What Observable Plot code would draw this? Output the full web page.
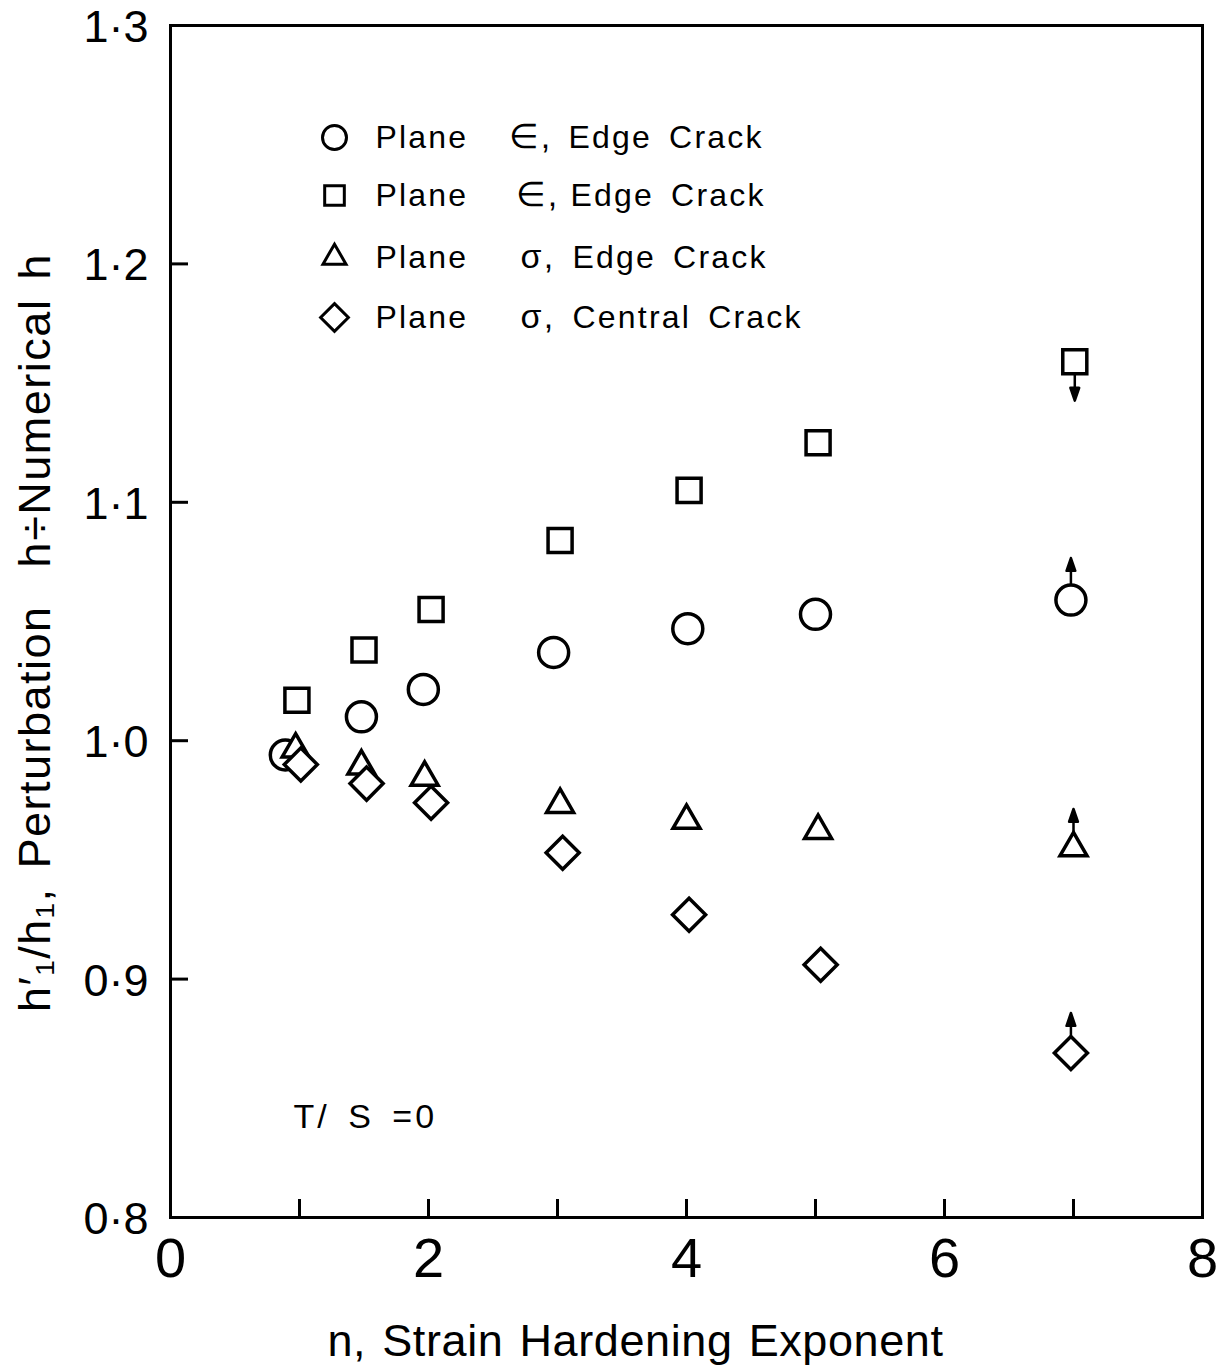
<!DOCTYPE html>
<html><head><meta charset="utf-8">
<script src="https://cdn.jsdelivr.net/npm/d3@7"></script>
<script src="https://cdn.jsdelivr.net/npm/@observablehq/plot@0.6"></script>
<style>
body{margin:0;background:#fff}
#chart svg{display:block;background:#fff}
</style></head><body><div id="chart"></div>
<script>
// Plane strain, edge crack (circles)
const nCircle = [0.89, 1.48, 1.96, 2.97, 4.01, 5.00, 6.98];
const vCircle = [0.994, 1.010, 1.0215, 1.037, 1.047, 1.053, 1.059];
// Plane strain, edge crack (squares)
const nSquare = [0.98, 1.50, 2.02, 3.02, 4.02, 5.02, 7.01];
const vSquare = [1.017, 1.038, 1.055, 1.084, 1.105, 1.125, 1.159];
// Plane stress, edge crack (triangles)
const nTriangle = [0.97, 1.48, 1.97, 3.02, 4.00, 5.02, 7.00];
const vTriangle = [0.9964, 0.9893, 0.9846, 0.9732, 0.9665, 0.9623, 0.955];
// Plane stress, central crack (diamonds)
const nDiamond = [1.01, 1.52, 2.02, 3.04, 4.02, 5.04, 6.98];
const vDiamond = [0.990, 0.982, 0.974, 0.953, 0.927, 0.906, 0.869];

// arrows on the last point of each series
const arrowSeries = ["circle", "square", "triangle", "diamond"];
const arrowDirection = ["up", "down", "up", "up"];

// legend
const legendSymbols = ["circle", "square2", "triangle2", "diamond2"];
const legendPlane = ["Plane", "Plane", "Plane", "Plane"];
const legendStress = ["\u2208,", "\u2208,", "\u03C3,", "\u03C3,"];
const legendCrack = ["Edge Crack", "Edge Crack", "Edge Crack", "Central Crack"];

// axes
const xLabelTicks = [0, 2, 4, 6, 8];
const xMarkTicks = [1, 2, 3, 4, 5, 6, 7];
const yLabelTicks = [0.8, 0.9, 1.0, 1.1, 1.2, 1.3];
const yTickLabels = ["0\u00B78", "0\u00B79", "1\u00B70", "1\u00B71", "1\u00B72", "1\u00B73"];
const yMarkTicks = [0.9, 1.0, 1.1, 1.2];
const xTitle = "n, Strain Hardening Exponent";
const yTitle = "h\u2032\u2081/h\u2081, Perturbation  h\u00F7Numerical h";
const note = "T/ S =0";

const mk = (ns, vs, s) => ns.map((n, i) => ({n, v: vs[i], s}));
const circles = mk(nCircle, vCircle, "circle");
const squares = mk(nSquare, vSquare, "square");
const triangles = mk(nTriangle, vTriangle, "triangle");
const diamonds = mk(nDiamond, vDiamond, "diamond");
const bySeries = {circle: circles, square: squares, triangle: triangles, diamond: diamonds};
const arrows = arrowSeries.map((s, i) => {
  const last = bySeries[s][bySeries[s].length - 1];
  return {n: last.n, v: last.v, dir: arrowDirection[i], s};
});
const arrowLen = {circle: 42, square: 39, triangle: 39, diamond: 40};

const filledArrow = {
  draw(context, l, r) {
    context.moveTo(0, 0);
    context.lineTo(0, -l + r * 1.4);
    context.moveTo(0, -l);
    context.lineTo(-r * 0.55, -l + r * 1.6);
    context.lineTo(r * 0.55, -l + r * 1.6);
    context.closePath();
  }
};

const W = 1224, H = 1370, mL = 170, mR = 22, mT = 25, mB = 153;
const frameH = H - mT - mB, frameW = W - mL - mR, tickLen = 18;

const legendMarks = [];
legendSymbols.forEach((sym, i) => {
  const dy = [112, 170, 232, 292][i];
  const rr = [12, 12.5, 11, 12.5][i];
  legendMarks.push(Plot.dot([sym], {frameAnchor: "top-left", dx: 164, dy, symbol: sym, r: rr, stroke: "black", strokeWidth: 3, fill: "white"}));
  legendMarks.push(Plot.text([legendPlane[i]], {frameAnchor: "top-left", dx: 205, dy, text: d => d, textAnchor: "start", lineAnchor: "middle", fontSize: 32}));
  legendMarks.push(Plot.text([legendStress[i]], {frameAnchor: "top-left", dx: [338, 345, 350, 350][i], dy, text: d => d, textAnchor: "start", lineAnchor: "middle", fontSize: 34}));
  legendMarks.push(Plot.text([legendCrack[i]], {frameAnchor: "top-left", dx: [398, 400, 402, 402][i], dy, text: d => d, textAnchor: "start", lineAnchor: "middle", fontSize: 32}));
});

const chart = Plot.plot({
  width: W,
  height: H,
  marginLeft: mL,
  marginRight: mR,
  marginTop: mT,
  marginBottom: mB,
  style: {fontFamily: "Liberation Sans, Arial, sans-serif", color: "black", background: "white"},
  x: {domain: [0, 8]},
  y: {domain: [0.8, 1.3]},
  length: {type: "identity"},
  marks: [
    Plot.tickX(xMarkTicks, {x: d => d, insetTop: frameH - tickLen, stroke: "black", strokeWidth: 3}),
    Plot.tickY(yMarkTicks, {y: d => d, insetRight: frameW - tickLen, stroke: "black", strokeWidth: 3}),
    Plot.frame({stroke: "black", strokeWidth: 3}),
    Plot.axisX(xLabelTicks, {tickSize: 0, tickPadding: 20, fontSize: 56, label: null, tickFormat: d => String(d)}),
    Plot.axisY(yLabelTicks, {tickSize: 0, tickPadding: 22, fontSize: 45, label: null, tickFormat: d => yTickLabels[yLabelTicks.indexOf(d)], dy: 2}),
    Plot.vector(arrows, {x: "n", y: "v", length: d => arrowLen[d.s], rotate: d => d.dir === "up" ? 0 : 180, anchor: "start", r: 8, shape: filledArrow, stroke: "black", fill: "black", strokeWidth: 2.5}),
    Plot.dot(squares, {x: "n", y: "v", symbol: "square2", r: 15.3, stroke: "black", strokeWidth: 3.5, fill: "white"}),
    Plot.dot(circles, {x: "n", y: "v", symbol: "circle", r: 15, stroke: "black", strokeWidth: 3.5, fill: "white"}),
    Plot.dot(triangles, {x: "n", y: "v", symbol: "triangle2", r: 12.9, stroke: "black", strokeWidth: 3.5, fill: "white"}),
    Plot.dot(diamonds, {x: "n", y: "v", symbol: "diamond2", r: 14.9, stroke: "black", strokeWidth: 3.5, fill: "white"}),
    ...legendMarks,
    Plot.text([note], {frameAnchor: "bottom-left", dx: 123, dy: -100, text: d => d, textAnchor: "start", lineAnchor: "middle", fontSize: 34}),
    Plot.text([xTitle], {frameAnchor: "bottom", dx: -51, dy: 138, text: d => d, textAnchor: "middle", lineAnchor: "bottom", fontSize: 45}),
    Plot.text([yTitle], {frameAnchor: "left", dx: -135, dy: 11, rotate: -90, text: d => d, textAnchor: "middle", lineAnchor: "middle", fontSize: 45})
  ]
});

// letter/word spacing for the hand-lettered look
const spacing = new Map();
legendPlane.concat(legendStress, legendCrack).forEach(t => spacing.set(t, [2.2, 6]));
spacing.set(note, [3, 6]);
spacing.set(xTitle, [0.6, 3]);
spacing.set(yTitle, [1.5, 5]);
d3.select(chart).selectAll("text").each(function () {
  const s = spacing.get(this.textContent);
  if (s) {
    this.setAttribute("letter-spacing", s[0]);
    this.setAttribute("word-spacing", s[1]);
  }
});
document.getElementById("chart").append(chart);
</script>
</body></html>
